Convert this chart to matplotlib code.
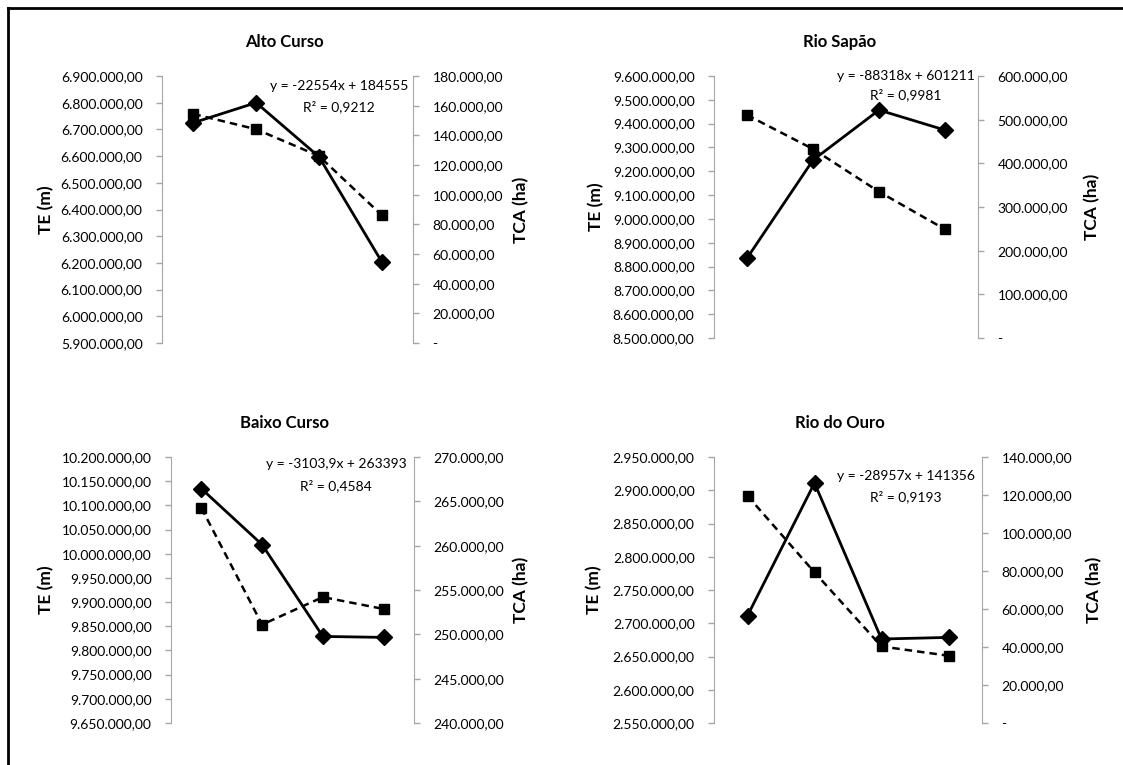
import matplotlib
matplotlib.use("Agg")
import matplotlib.pyplot as plt
from matplotlib.lines import Line2D
from matplotlib.ticker import FuncFormatter, MultipleLocator

plt.rcParams['font.family'] = ['Lato', 'DejaVu Sans']

W, H = 1123, 765

titles = ['Alto Curso', 'Rio Sapão', 'Baixo Curso', 'Rio do Ouro']
x_cat = [1, 2, 3, 4]

# TE (m) - diamonds, solid line, left axis
te_alto = [6725000, 6800000, 6598000, 6205000]
te_sapao = [8835000, 9247000, 9457000, 9373000]
te_baixo = [10134500, 10018700, 9829000, 9827000]
te_ouro = [2711400, 2910900, 2676300, 2678700]

# TCA (ha) - squares, dashed line, right axis
tca_alto = [154400, 144100, 126100, 86300]
tca_sapao = [510700, 432800, 335000, 248900]
tca_baixo = [264250, 251100, 254200, 252860]
tca_ouro = [119600, 79300, 40300, 35400]

equations = ['y = -22554x + 184555', 'y = -88318x + 601211',
             'y = -3103,9x + 263393', 'y = -28957x + 141356']
r2_texts = ['R² = 0,9212', 'R² = 0,9981', 'R² = 0,4584', 'R² = 0,9193']

te_lims = [(5900000, 6900000, 100000), (8500000, 9600000, 100000),
           (9650000, 10200000, 50000), (2550000, 2950000, 50000)]
tca_lims = [(0, 180000, 20000), (0, 600000, 100000),
            (240000, 270000, 5000), (0, 140000, 20000)]

te_data = [te_alto, te_sapao, te_baixo, te_ouro]
tca_data = [tca_alto, tca_sapao, tca_baixo, tca_ouro]

# panel layout in pixels: left spine, right spine, top, bottom
boxes = [(162, 413, 76, 343), (714, 978, 76, 338),
         (171, 414, 457, 723), (714, 982, 457, 723)]
title_pos = [(284, 42), (840, 42), (284, 423), (840, 423)]
eq_pos = [(339, 86, 107), (906, 76, 95), (336, 464, 486), (906, 476, 497)]
te_lab_x = [46, 596, 46, 594]
tca_lab_x = [521, 1092, 521, 1094]


def br_fmt(v, pos):
    if abs(v) < 1e-6:
        return '-'
    s = f'{v:,.2f}'
    return s.replace(',', 'X').replace('.', ',').replace('X', '.')


fmt = FuncFormatter(br_fmt)
gray = '#a6a6a6'

fig = plt.figure(figsize=(W / 100, H / 100), dpi=100)

for i in range(4):
    l, r, t, b = boxes[i]
    ax = fig.add_axes([l / W, 1 - b / H, (r - l) / W, (b - t) / H])
    ax2 = ax.twinx()

    ax.plot(x_cat, te_data[i], color='black', lw=2, marker='D', markersize=8, zorder=3)
    ax2.plot(x_cat, tca_data[i], color='black', lw=1.8, ls=(0, (3, 2)), marker='s', markersize=7.5)

    lo, hi, st = te_lims[i]
    ax.set_ylim(lo, hi)
    ax.yaxis.set_major_locator(MultipleLocator(st))
    lo, hi, st = tca_lims[i]
    ax2.set_ylim(lo, hi)
    ax2.yaxis.set_major_locator(MultipleLocator(st))
    ax.set_xlim(0.5, 4.5)

    for a in (ax, ax2):
        a.yaxis.set_major_formatter(fmt)
        a.set_xticks([])
        a.spines['top'].set_visible(False)
        a.spines['bottom'].set_visible(False)
        a.tick_params(axis='y', direction='out', length=4, width=1, color=gray,
                      labelsize=10, pad=10)
    ax.spines['right'].set_visible(False)
    ax.spines['left'].set_color(gray)
    ax2.spines['left'].set_visible(False)
    ax2.spines['right'].set_color(gray)
    ax.set_zorder(ax2.get_zorder() + 1)
    ax.patch.set_visible(False)

    fig.text(title_pos[i][0] / W, 1 - title_pos[i][1] / H, titles[i],
             ha='center', va='center', fontsize=12, fontweight='bold')
    fig.text(te_lab_x[i] / W, 1 - (t + b) / 2 / H, 'TE (m)', rotation=90,
             ha='center', va='center', fontsize=12.5, fontweight='bold')
    fig.text(tca_lab_x[i] / W, 1 - (t + b) / 2 / H, 'TCA (ha)', rotation=90,
             ha='center', va='center', fontsize=12.5, fontweight='bold')
    ex, ey, ry = eq_pos[i]
    fig.text(ex / W, 1 - ey / H, equations[i], ha='center', va='center', fontsize=10)
    fig.text(ex / W, 1 - ry / H, r2_texts[i], ha='center', va='center', fontsize=10)

# outer frame (top and left edges visible)
fig.add_artist(Line2D([8 / W, 1], [1 - 8 / H, 1 - 8 / H], color='black', lw=2))
fig.add_artist(Line2D([8 / W, 8 / W], [0, 1 - 8 / H], color='black', lw=2))

fig.savefig('out.png', dpi=100)
